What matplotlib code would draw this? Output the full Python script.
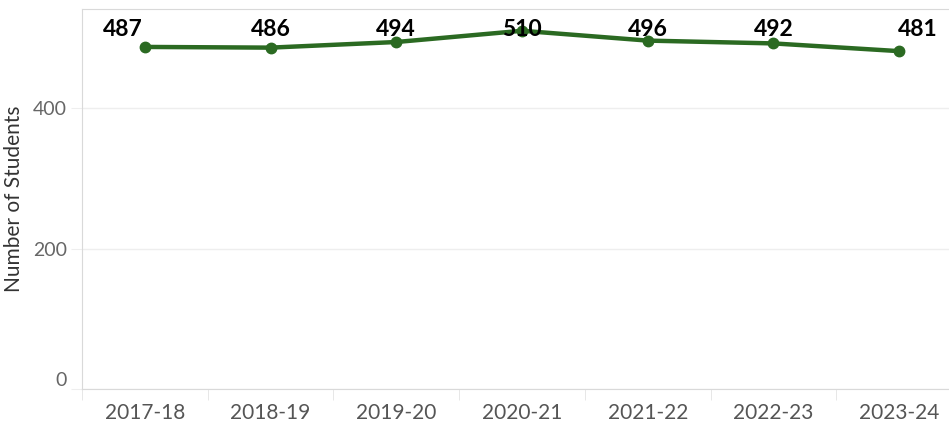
import matplotlib.pyplot as plt
import numpy as np

# enrollment by school year
years = ["2017-18", "2018-19", "2019-20", "2020-21", "2021-22", "2022-23", "2023-24"]
students = [487, 486, 494, 510, 496, 492, 481]
label_shift = [-22, 0, 0, 0, 0, 0, 19]  # px, horizontal nudge of value labels

plt.rcParams['font.family'] = ['Lato', 'DejaVu Sans']

W, H = 949, 426
fig = plt.figure(figsize=(W / 100, H / 100), dpi=100)
# plot area runs a bit past the right edge, like the original crop
ax = fig.add_axes([82 / W, 37 / H, 880 / W, 380 / H])

x = np.arange(len(years))
green = "#2b6a22"
ax.plot(x, students, color=green, lw=3.2, marker="o", ms=7.5, zorder=3)

for xi, v, dx in zip(x, students, label_shift):
    ax.annotate(str(v), (xi, 1), xycoords=("data", "axes fraction"),
                xytext=(dx, -20), textcoords="offset pixels",
                ha="center", va="center", fontsize=16.5, fontweight="bold",
                color="black", zorder=4)

ax.set_xlim(-0.5, len(years) - 0.5)
ax.set_ylim(0, 541)
ax.set_yticks([0, 200, 400])
ax.set_xticks(x)
ax.set_xticklabels(years)
ax.set_xticks(np.arange(len(years) + 1) - 0.5, minor=True)

ax.grid(axis="y", color="#eeeeee", lw=1)
ax.set_axisbelow(True)
for s in ax.spines.values():
    s.set_color("#d9d9d9")
ax.spines["right"].set_visible(False)

ax.tick_params(axis="x", which="major", length=0, labelsize=15, labelcolor="#555555", pad=10)
ax.tick_params(axis="x", which="minor", length=8, color="#e3e3e3")
ax.tick_params(axis="y", length=8, color="#eeeeee", labelsize=14, labelcolor="#666666", pad=3)
# bottom label sits above the axis line in the original
for t in ax.get_yticklabels():
    if t.get_text() == "0":
        t.set_va("bottom")

ax.set_ylabel("Number of Students", fontsize=15, color="#333333", labelpad=6)

fig.savefig("out.png", dpi=100)
